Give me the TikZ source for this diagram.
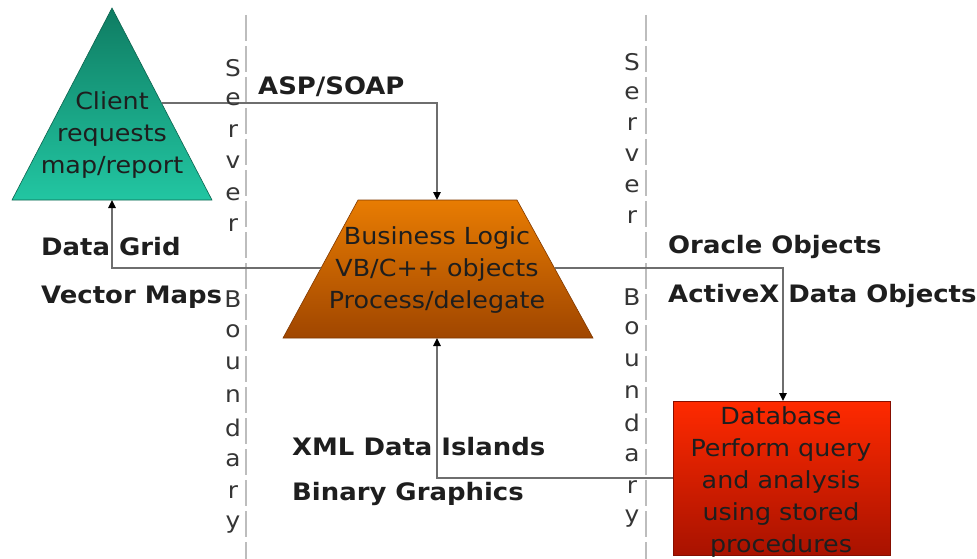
\documentclass[tikz,border=0pt]{standalone}
\usepackage{fontspec}
\setmainfont{DejaVu Sans}[FakeStretch=1.08]
\usetikzlibrary{arrows.meta}

\definecolor{tealtop}{HTML}{0F7C62}
\definecolor{tealbot}{HTML}{22C6A2}
\definecolor{orgtop}{HTML}{E87C02}
\definecolor{orgbot}{HTML}{A04600}
\definecolor{redtop}{HTML}{FF2A00}
\definecolor{redbot}{HTML}{A81200}
\definecolor{wire}{HTML}{6E6E6E}
\definecolor{fence}{HTML}{BDBDBD}
\definecolor{ink}{HTML}{1E1E1E}

\tikzset{
  boxtext/.style={font=\fontsize{23.5}{32}\selectfont, align=center, text=ink, inner sep=0pt},
  flowlabel/.style={font=\fontsize{24}{28}\selectfont\bfseries, text=ink, anchor=west, inner sep=0pt},
  fenceletter/.style={font=\fontsize{23}{28}\selectfont, text=ink!90, inner sep=0pt},
  fenceline/.style={draw=fence, line width=1.2pt, dash pattern=on 26pt off 5pt},
  wireline/.style={draw=wire, line width=1.3pt, -{Triangle[length=8pt,width=7.5pt,black]}},
}

\begin{document}
\begin{tikzpicture}[x=1pt,y=-1pt]
\useasboundingbox (0,0) rectangle (977,559);

% server boundary fences
\draw[fenceline] (246,15) -- (246,559);
\draw[fenceline] (646,15) -- (646,559);

% client triangle
\shade[top color=tealtop, bottom color=tealbot, draw=tealtop!80!black, line width=0.6pt]
  (112,8) -- (212,200) -- (12,200) -- cycle;
\node[boxtext] (client) at (112,135) {Client\\requests\\map/report};

% business logic trapezoid
\shade[top color=orgtop, bottom color=orgbot, draw=orgbot!80!black, line width=0.6pt]
  (358,200) -- (517,200) -- (593,338) -- (283,338) -- cycle;
\node[boxtext] (logic) at (437,270) {Business Logic\\VB/C++ objects\\Process/delegate};

% database box
\shade[top color=redtop, bottom color=redbot, draw=redbot!80!black, line width=0.6pt]
  (673,401) rectangle (890,555);
\node[boxtext] (db) at (781,482) {Database\\Perform query\\and analysis\\using stored\\procedures};

% connector end points on the shape outlines
\coordinate (cliE) at (161.5,103);
\coordinate (cliS) at (112,200);
\coordinate (bizN) at (437,200);
\coordinate (bizS) at (437,338);
\coordinate (bizW) at (321,268);
\coordinate (bizE) at (554.5,268);
\coordinate (dbN)  at (783,401);
\coordinate (dbW)  at (673,478);

% connectors
\draw[wireline] (cliE) -| (bizN);
\draw[wireline] (bizW) -| (cliS);
\draw[wireline] (bizE) -| (dbN);
\draw[wireline] (dbW) -| (bizS);

% connector labels
\node[flowlabel] (asp)    at (258,87)  {ASP/SOAP};
\node[flowlabel] (grid)   at (41,247)  {Data Grid};
\node[flowlabel] (vmaps)  at (41,297)  {Vector Maps};
\node[flowlabel] (oracle) at (668,247) {Oracle Objects};
\node[flowlabel] (adox)   at (668,296) {ActiveX Data Objects};
\node[flowlabel] (xmli)   at (292,447) {XML Data Islands};
\node[flowlabel] (bing)   at (292,494) {Binary Graphics};

% vertical fence captions
\foreach \ch [count=\i] in {S,e,r,v,e,r}
  \node[fenceletter] (lsv\i) at (233,{68+31.5*(\i-1)}) {\ch};
\foreach \ch [count=\i] in {B,o,u,n,d,a,r,y}
  \node[fenceletter] (lbd\i) at (233,{299+32.2*(\i-1)}) {\ch};
\foreach \ch [count=\i] in {S,e,r,v,e,r}
  \node[fenceletter] (rsv\i) at (632,{62+31*(\i-1)}) {\ch};
\foreach \ch [count=\i] in {B,o,u,n,d,a,r,y}
  \node[fenceletter] (rbd\i) at (632,{297+31.6*(\i-1)}) {\ch};
\end{tikzpicture}
\end{document}
